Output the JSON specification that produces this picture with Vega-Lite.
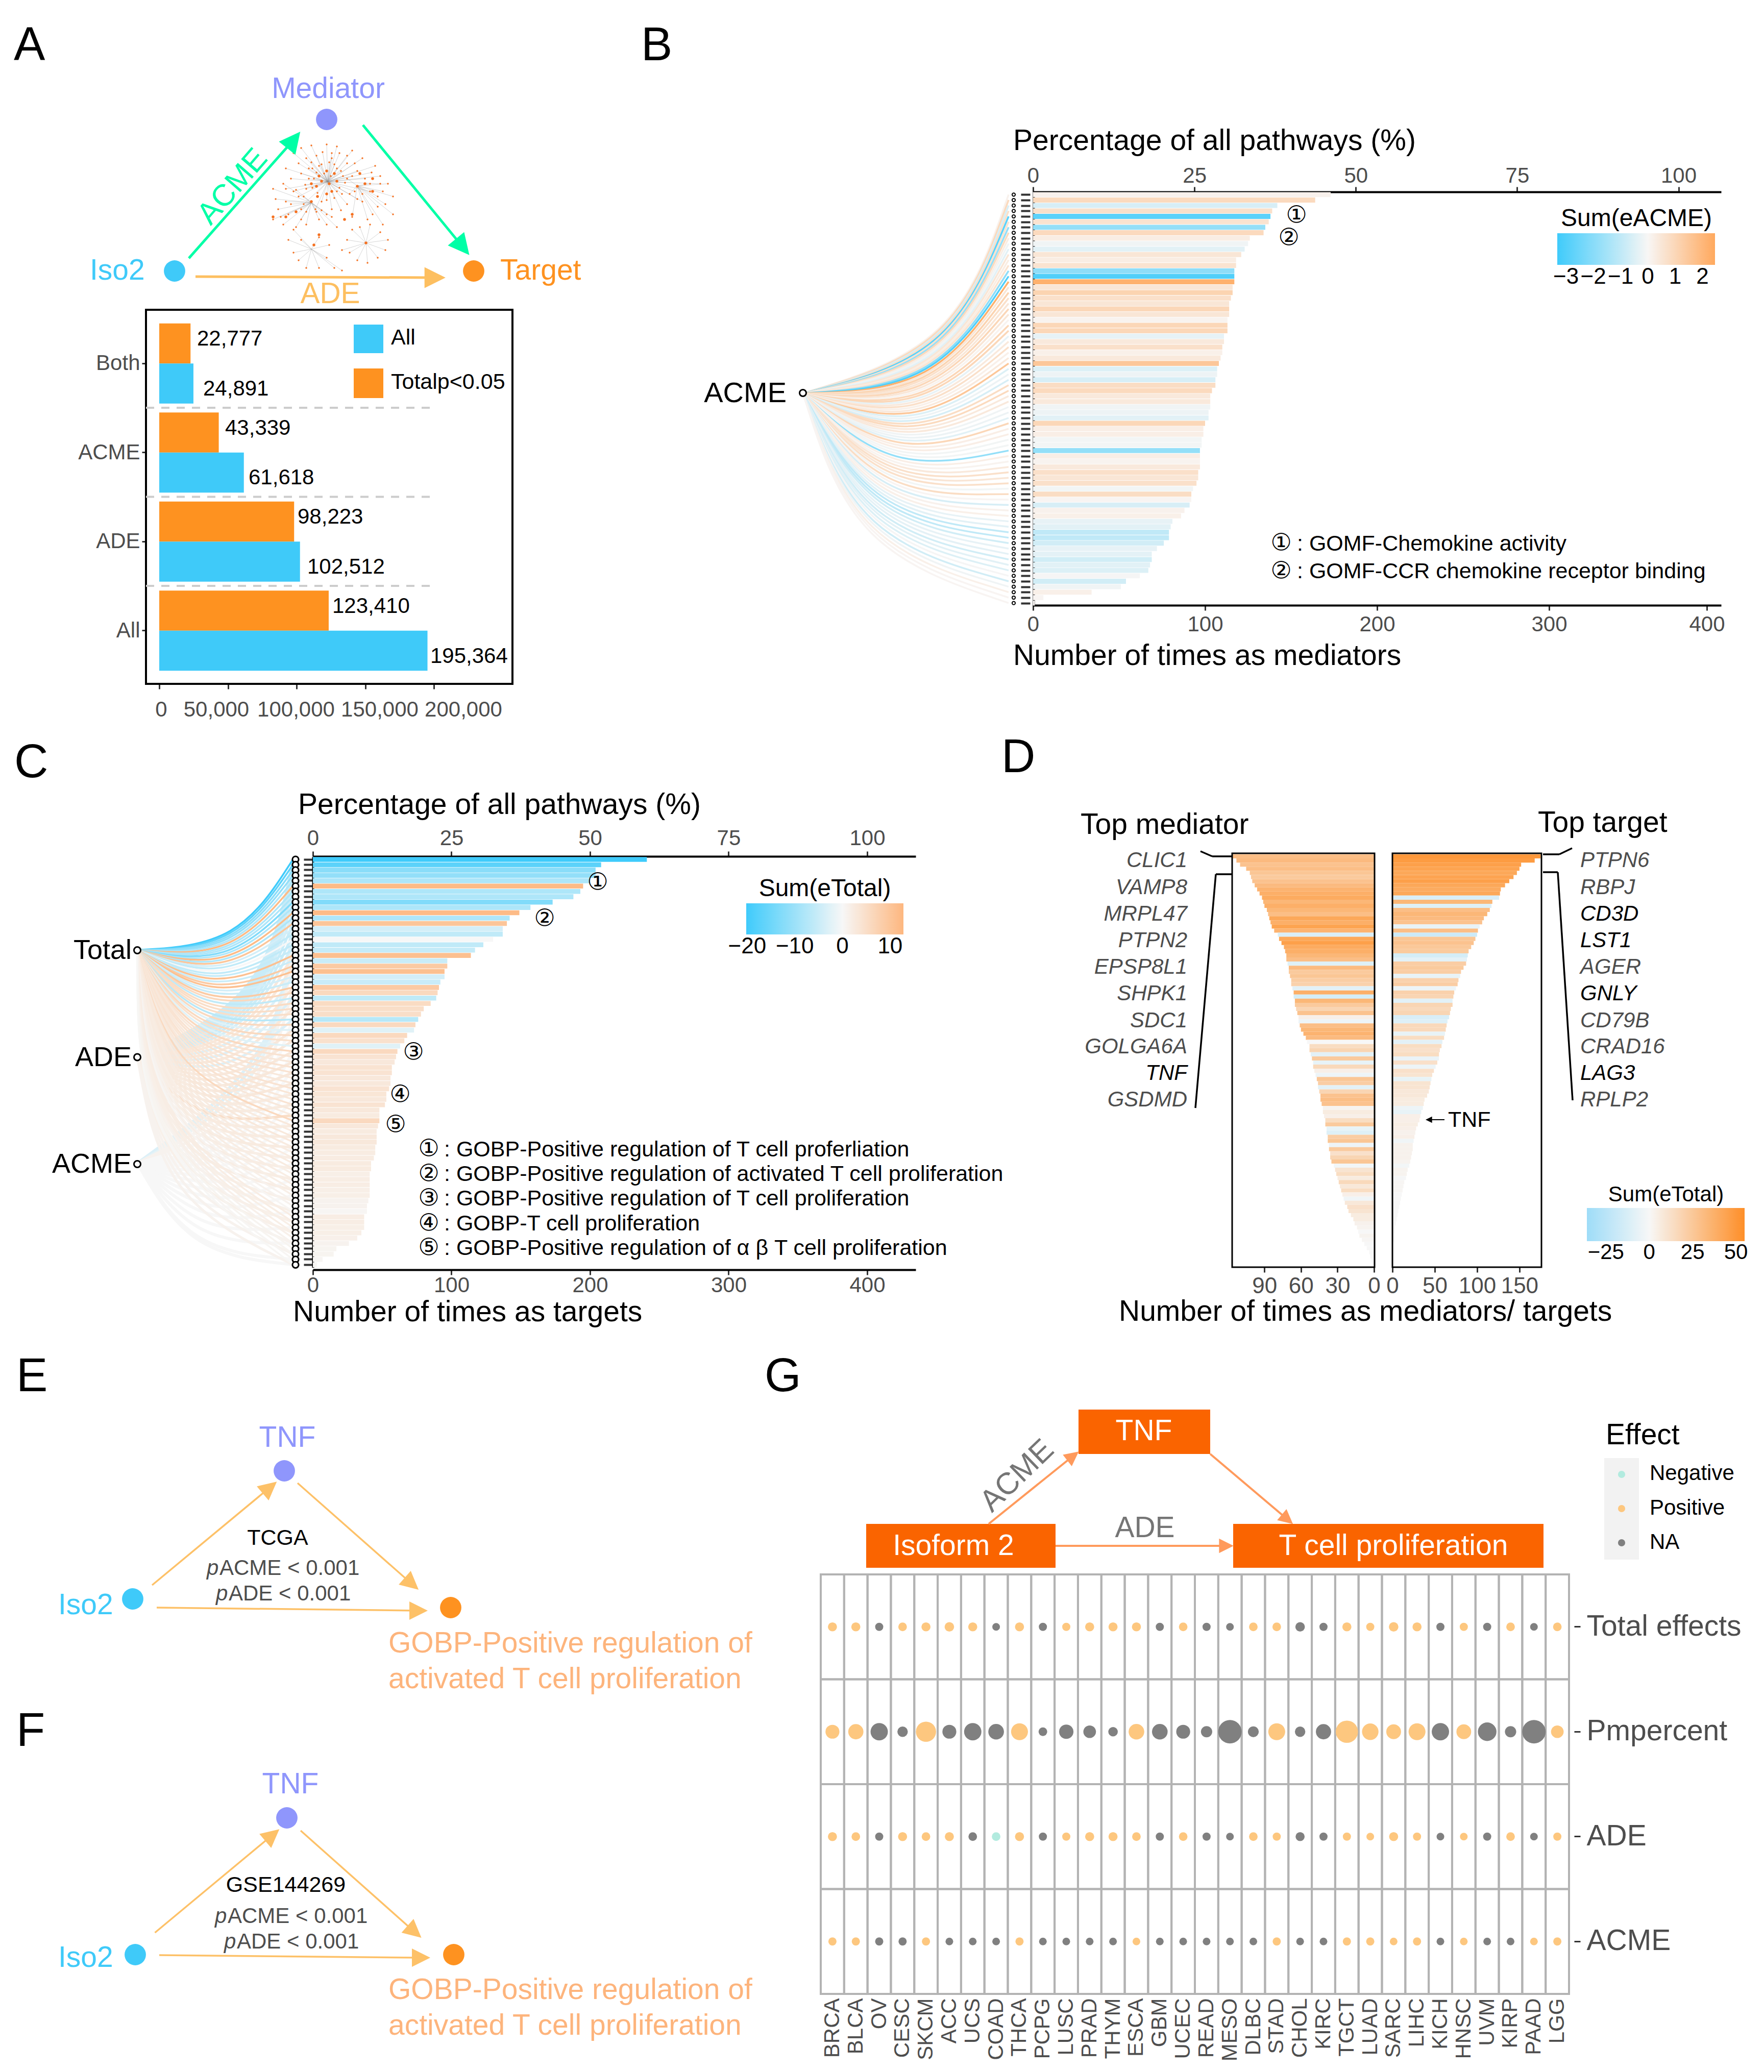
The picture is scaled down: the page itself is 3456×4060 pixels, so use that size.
{"$schema":"https://vega.github.io/schema/vega-lite/v6.json","width":3456,"height":4060,"padding":0,"autosize":{"type":"none"},"background":"white",
"config":{"font":"Liberation Sans","view":{"stroke":null},"text":{"baseline":"alphabetic","align":"left"},"axis":{"labelFontSize":42,"labelColor":"#4d4d4d","tickColor":"#333333","domainColor":"#000000","domainWidth":4,"tickWidth":3,"tickSize":10,"labelPadding":6,"grid":false,"zindex":1,"labelOverlap":false,"labelFlush":false,"labelFont":"Liberation Sans","labelLimit":600},"legend":{"labelFontSize":44,"labelColor":"#000000","titleFontSize":48,"titleFontWeight":"normal","titleColor":"#000000","titleAnchor":"middle","titlePadding":4,"labelOffset":10,"labelFont":"Liberation Sans","titleFont":"Liberation Sans","labelOverlap":false,"titleLimit":600,"labelLimit":200,"symbolType":"square"}},
"resolve":{"scale":{"x":"independent","y":"independent","color":"independent","size":"independent"},"axis":{"x":"independent","y":"independent"},"legend":{"color":"independent"}},
"datasets":{
"b":[{"r":1,"v":173,"c":0.15,"ex":[0,28.1,37.8],"ey":[37.5,28.7,1]},{"r":2,"v":164,"c":0.9,"ex":[0,27.8,37.8],"ey":[37.5,29.2,2]},{"r":3,"v":142,"c":-0.6,"ex":[0,27.6,37.8],"ey":[37.5,29.7,3]},{"r":4,"v":139,"c":0.7,"ex":[0,27.3,37.8],"ey":[37.5,30.2,4]},{"r":5,"v":138,"c":-2.8,"ex":[0,27.1,37.8],"ey":[37.5,30.7,5]},{"r":6,"v":137,"c":0.6,"ex":[0,26.8,37.8],"ey":[37.5,31.2,6]},{"r":7,"v":135,"c":-1.8,"ex":[0,26.6,37.8],"ey":[37.5,31.7,7]},{"r":8,"v":134,"c":0.9,"ex":[0,26.3,37.8],"ey":[37.5,32.2,8]},{"r":9,"v":126,"c":0.3,"ex":[0,26.1,37.8],"ey":[37.5,32.7,9]},{"r":10,"v":125,"c":-0.15,"ex":[0,25.8,37.8],"ey":[37.5,33.2,10]},{"r":11,"v":123,"c":-0.4,"ex":[0,25.6,37.8],"ey":[37.5,33.7,11]},{"r":12,"v":121,"c":0.5,"ex":[0,25.3,37.8],"ey":[37.5,34.2,12]},{"r":13,"v":118,"c":0.3,"ex":[0,25.1,37.8],"ey":[37.5,34.7,13]},{"r":14,"v":118,"c":0.6,"ex":[0,24.8,37.8],"ey":[37.5,35.2,14]},{"r":15,"v":117,"c":-1.9,"ex":[0,24.6,37.8],"ey":[37.5,35.7,15]},{"r":16,"v":117,"c":-3,"ex":[0,24.3,37.8],"ey":[37.5,36.2,16]},{"r":17,"v":117,"c":2.2,"ex":[0,24.1,37.8],"ey":[37.5,36.7,17]},{"r":18,"v":116,"c":0.5,"ex":[0,23.8,37.8],"ey":[37.5,37.2,18]},{"r":19,"v":116,"c":1.1,"ex":[0,23.6,37.8],"ey":[37.5,37.7,19]},{"r":20,"v":115,"c":0.7,"ex":[0,23.3,37.8],"ey":[37.5,38.2,20]},{"r":21,"v":114,"c":0.5,"ex":[0,23.1,37.8],"ey":[37.5,38.7,21]},{"r":22,"v":114,"c":1,"ex":[0,22.8,37.8],"ey":[37.5,39.2,22]},{"r":23,"v":114,"c":0.5,"ex":[0,22.6,37.8],"ey":[37.5,39.7,23]},{"r":24,"v":113,"c":0.1,"ex":[0,22.3,37.8],"ey":[37.5,40.2,24]},{"r":25,"v":113,"c":1,"ex":[0,22.1,37.8],"ey":[37.5,40.7,25]},{"r":26,"v":113,"c":1,"ex":[0,21.8,37.8],"ey":[37.5,41.2,26]},{"r":27,"v":111,"c":-0.3,"ex":[0,21.6,37.8],"ey":[37.5,41.7,27]},{"r":28,"v":111,"c":0.4,"ex":[0,21.3,37.8],"ey":[37.5,42.2,28]},{"r":29,"v":110,"c":0.7,"ex":[0,21.1,37.8],"ey":[37.5,42.7,29]},{"r":30,"v":110,"c":0.2,"ex":[0,20.8,37.8],"ey":[37.5,43.2,30]},{"r":31,"v":109,"c":0.4,"ex":[0,20.6,37.8],"ey":[37.5,43.7,31]},{"r":32,"v":108,"c":1.5,"ex":[0,20.3,37.8],"ey":[37.5,44.2,32]},{"r":33,"v":107,"c":-0.5,"ex":[0,20.1,37.8],"ey":[37.5,44.7,33]},{"r":34,"v":107,"c":-0.2,"ex":[0,19.8,37.8],"ey":[37.5,45.2,34]},{"r":35,"v":106,"c":-0.6,"ex":[0,19.6,37.8],"ey":[37.5,45.7,35]},{"r":36,"v":106,"c":0.8,"ex":[0,19.3,37.8],"ey":[37.5,46.2,36]},{"r":37,"v":104,"c":0.9,"ex":[0,19.1,37.8],"ey":[37.5,46.7,37]},{"r":38,"v":103,"c":0.4,"ex":[0,18.8,37.8],"ey":[37.5,47.2,38]},{"r":39,"v":103,"c":0.4,"ex":[0,18.6,37.8],"ey":[37.5,47.7,39]},{"r":40,"v":103,"c":-0.15,"ex":[0,18.3,37.8],"ey":[37.5,48.2,40]},{"r":41,"v":102,"c":-0.2,"ex":[0,18.1,37.8],"ey":[37.5,48.7,41]},{"r":42,"v":102,"c":-0.4,"ex":[0,17.8,37.8],"ey":[37.5,49.2,42]},{"r":43,"v":100,"c":1,"ex":[0,17.6,37.8],"ey":[37.5,49.7,43]},{"r":44,"v":99,"c":0.25,"ex":[0,17.3,37.8],"ey":[37.5,50.2,44]},{"r":45,"v":99,"c":0.25,"ex":[0,17.1,37.8],"ey":[37.5,50.7,45]},{"r":46,"v":98,"c":-0.1,"ex":[0,16.8,37.8],"ey":[37.5,51.2,46]},{"r":47,"v":98,"c":-0.1,"ex":[0,16.6,37.8],"ey":[37.5,51.7,47]},{"r":48,"v":97,"c":-1.8,"ex":[0,16.3,37.8],"ey":[37.5,52.2,48]},{"r":49,"v":97,"c":0.25,"ex":[0,16.1,37.8],"ey":[37.5,52.7,49]},{"r":50,"v":97,"c":0.1,"ex":[0,15.8,37.8],"ey":[37.5,53.2,50]},{"r":51,"v":97,"c":0.4,"ex":[0,15.6,37.8],"ey":[37.5,53.7,51]},{"r":52,"v":96,"c":0.7,"ex":[0,15.3,37.8],"ey":[37.5,54.2,52]},{"r":53,"v":96,"c":0.5,"ex":[0,15.1,37.8],"ey":[37.5,54.7,53]},{"r":54,"v":95,"c":0.7,"ex":[0,14.8,37.8],"ey":[37.5,55.2,54]},{"r":55,"v":93,"c":-0.1,"ex":[0,14.6,37.8],"ey":[37.5,55.7,55]},{"r":56,"v":92,"c":0.8,"ex":[0,14.3,37.8],"ey":[37.5,56.2,56]},{"r":57,"v":92,"c":0.05,"ex":[0,14.1,37.8],"ey":[37.5,56.7,57]},{"r":58,"v":91,"c":-0.6,"ex":[0,13.8,37.8],"ey":[37.5,57.2,58]},{"r":59,"v":88,"c":0.15,"ex":[0,13.6,37.8],"ey":[37.5,57.7,59]},{"r":60,"v":86,"c":0.2,"ex":[0,13.3,37.8],"ey":[37.5,58.2,60]},{"r":61,"v":81,"c":-0.3,"ex":[0,13.1,37.8],"ey":[37.5,58.7,61]},{"r":62,"v":80,"c":-0.4,"ex":[0,12.8,37.8],"ey":[37.5,59.2,62]},{"r":63,"v":79,"c":-1,"ex":[0,12.6,37.8],"ey":[37.5,59.7,63]},{"r":64,"v":79,"c":-1,"ex":[0,12.3,37.8],"ey":[37.5,60.2,64]},{"r":65,"v":76,"c":-0.7,"ex":[0,12.1,37.8],"ey":[37.5,60.7,65]},{"r":66,"v":72,"c":-0.3,"ex":[0,11.8,37.8],"ey":[37.5,61.2,66]},{"r":67,"v":69,"c":-0.35,"ex":[0,11.6,37.8],"ey":[37.5,61.7,67]},{"r":68,"v":69,"c":-0.7,"ex":[0,11.3,37.8],"ey":[37.5,62.2,68]},{"r":69,"v":68,"c":-0.4,"ex":[0,11.1,37.8],"ey":[37.5,62.7,69]},{"r":70,"v":67,"c":-0.5,"ex":[0,10.8,37.8],"ey":[37.5,63.2,70]},{"r":71,"v":62,"c":-0.05,"ex":[0,10.6,37.8],"ey":[37.5,63.7,71]},{"r":72,"v":54,"c":-0.7,"ex":[0,10.3,37.8],"ey":[37.5,64.2,72]},{"r":73,"v":51,"c":-0.15,"ex":[0,10.1,37.8],"ey":[37.5,64.7,73]},{"r":74,"v":34,"c":0.2,"ex":[0,9.8,37.8],"ey":[37.5,65.2,74]},{"r":75,"v":6,"c":0.05,"ex":[0,9.6,37.8],"ey":[37.5,65.7,75]},{"r":76,"v":1,"c":0.05,"ex":[0,9.3,37.8],"ey":[37.5,66.2,76]}],
"c":[{"r":1,"v":241,"c":-21,"ex":[0,18.9,29.2],"ey":[18,16.8,1]},{"r":2,"v":208,"c":-17,"ex":[0,18.6,29.2],"ey":[18,17.3,2]},{"r":3,"v":204,"c":-12,"ex":[0,18.4,29.2],"ey":[18,17.8,3]},{"r":4,"v":204,"c":-11,"ex":[0,18.1,29.2],"ey":[18,18.3,4]},{"r":5,"v":200,"c":-8,"ex":[0,17.9,29.2],"ey":[18,18.8,5]},{"r":6,"v":195,"c":12,"ex":[0,17.6,29.2],"ey":[18,19.3,6]},{"r":7,"v":193,"c":-8,"ex":[0,17.4,29.2],"ey":[18,19.8,7]},{"r":8,"v":188,"c":-8,"ex":[0,17.1,29.2],"ey":[18,20.3,8]},{"r":9,"v":173,"c":-13,"ex":[0,16.9,29.2],"ey":[18,20.8,9]},{"r":10,"v":157,"c":-8,"ex":[0,16.6,29.2],"ey":[18,21.3,10]},{"r":11,"v":149,"c":12,"ex":[0,16.4,29.2],"ey":[18,21.8,11]},{"r":12,"v":142,"c":-8,"ex":[0,16.1,29.2],"ey":[18,22.3,12]},{"r":13,"v":140,"c":10,"ex":[0,15.9,29.2],"ey":[18,22.8,13]},{"r":14,"v":137,"c":-4,"ex":[0,15.6,29.2],"ey":[18,23.3,14]},{"r":15,"v":137,"c":-6,"ex":[0,15.4,29.2],"ey":[18,23.8,15]},{"r":16,"v":130,"c":0,"ex":[0,15.1,29.2],"ey":[18,24.3,16]},{"r":17,"v":123,"c":-6,"ex":[0,14.9,29.2],"ey":[18,24.8,17]},{"r":18,"v":117,"c":-5.5,"ex":[0,14.6,29.2],"ey":[18,25.3,18]},{"r":19,"v":114,"c":11,"ex":[0,14.4,29.2],"ey":[18,25.8,19]},{"r":20,"v":97,"c":-5,"ex":[0,14.1,29.2],"ey":[18,26.3,20]},{"r":21,"v":97,"c":9,"ex":[0,13.9,29.2],"ey":[18,26.8,21]},{"r":22,"v":95,"c":11,"ex":[0,13.6,29.2],"ey":[18,27.3,22]},{"r":23,"v":95,"c":-4,"ex":[0,13.4,29.2],"ey":[18,27.8,23]},{"r":24,"v":92,"c":-5,"ex":[0,13.1,29.2],"ey":[18,28.3,24]},{"r":25,"v":91,"c":9,"ex":[0,12.9,29.2],"ey":[18,28.8,25]},{"r":26,"v":90,"c":6,"ex":[0,12.6,29.2],"ey":[18,29.3,26]},{"r":27,"v":89,"c":-6,"ex":[0,12.4,29.2],"ey":[18,29.8,27]},{"r":28,"v":85,"c":5.5,"ex":[0,12.1,29.2],"ey":[18,30.3,28]},{"r":29,"v":80,"c":5,"ex":[0,11.9,29.2],"ey":[18,30.8,29]},{"r":30,"v":78,"c":5,"ex":[0,11.6,29.2],"ey":[18,31.3,30]},{"r":31,"v":76,"c":-7,"ex":[0,11.4,29.2],"ey":[18,31.8,31]},{"r":32,"v":74,"c":6,"ex":[0,11.1,29.2],"ey":[18,32.3,32]},{"r":33,"v":73,"c":-2.5,"ex":[0,10.9,29.2],"ey":[18,32.8,33]},{"r":34,"v":68,"c":6,"ex":[0,10.6,29.2],"ey":[18,33.3,34]},{"r":35,"v":66,"c":4.5,"ex":[0,10.4,29.2],"ey":[18,33.8,35]},{"r":36,"v":63,"c":-2.5,"ex":[0,10.1,29.2],"ey":[18,34.3,36]},{"r":37,"v":61,"c":6,"ex":[0,9.9,29.2],"ey":[18,34.8,37]},{"r":38,"v":60,"c":4,"ex":[0,9.6,29.2],"ey":[18,35.3,38]},{"r":39,"v":59,"c":3,"ex":[0,9.4,29.2],"ey":[18,35.8,39]},{"r":40,"v":57,"c":4,"ex":[0,9.1,29.2],"ey":[18,36.3,40]},{"r":41,"v":57,"c":4,"ex":[0,8.9,29.2],"ey":[18,36.8,41]},{"r":42,"v":56,"c":3,"ex":[0,8.6,29.2],"ey":[18,37.3,42]},{"r":43,"v":56,"c":3,"ex":[0,8.4,29.2],"ey":[18,37.8,43]},{"r":44,"v":55,"c":4,"ex":[0,8.1,29.2],"ey":[18,38.3,44]},{"r":45,"v":53,"c":3.5,"ex":[0,7.9,29.2],"ey":[18,38.8,45]},{"r":46,"v":53,"c":3,"ex":[0,7.6,29.2],"ey":[18,39.3,46]},{"r":47,"v":52,"c":4,"ex":[0,7.4,29.2],"ey":[18,39.8,47]},{"r":48,"v":48,"c":3,"ex":[0,7.1,29.2],"ey":[18,40.3,48]},{"r":49,"v":48,"c":2.5,"ex":[0,6.9,29.2],"ey":[18,40.8,49]},{"r":50,"v":48,"c":6,"ex":[0,6.6,29.2],"ey":[18,41.3,50]},{"r":51,"v":47,"c":3,"ex":[0,6.4,29.2],"ey":[18,41.8,51]},{"r":52,"v":46,"c":2.5,"ex":[0,6.1,29.2],"ey":[18,42.3,52]},{"r":53,"v":46,"c":3,"ex":[0,5.9,29.2],"ey":[18,42.8,53]},{"r":54,"v":46,"c":3,"ex":[0,5.6,29.2],"ey":[18,43.3,54]},{"r":55,"v":45,"c":2.5,"ex":[0,5.4,29.2],"ey":[18,43.8,55]},{"r":56,"v":45,"c":2.2,"ex":[0,5.1,29.2],"ey":[18,44.3,56]},{"r":57,"v":44,"c":2.2,"ex":[0,4.9,29.2],"ey":[18,44.8,57]},{"r":58,"v":42,"c":2.5,"ex":[0,4.6,29.2],"ey":[18,45.3,58]},{"r":59,"v":42,"c":2.5,"ex":[0,4.4,29.2],"ey":[18,45.8,59]},{"r":60,"v":41,"c":1.7,"ex":[0,4.1,29.2],"ey":[18,46.3,60]},{"r":61,"v":41,"c":2,"ex":[0,3.9,29.2],"ey":[18,46.8,61]},{"r":62,"v":41,"c":2,"ex":[0,3.6,29.2],"ey":[18,47.3,62]},{"r":63,"v":41,"c":1.7,"ex":[0,3.4,29.2],"ey":[18,47.8,63]},{"r":64,"v":41,"c":1.7,"ex":[0,3.1,29.2],"ey":[18,48.3,64]},{"r":65,"v":40,"c":1,"ex":[0,2.9,29.2],"ey":[18,48.8,65]},{"r":66,"v":39,"c":1,"ex":[0,2.6,29.2],"ey":[18,49.3,66]},{"r":67,"v":39,"c":0.4,"ex":[0,2.4,29.2],"ey":[18,49.8,67]},{"r":68,"v":37,"c":2,"ex":[0,2.1,29.2],"ey":[18,50.3,68]},{"r":69,"v":37,"c":2,"ex":[0,1.9,29.2],"ey":[18,50.8,69]},{"r":70,"v":37,"c":1.7,"ex":[0,1.6,29.2],"ey":[18,51.3,70]},{"r":71,"v":35,"c":1.7,"ex":[0,1.4,29.2],"ey":[18,51.8,71]},{"r":72,"v":32,"c":1.4,"ex":[0,1.1,29.2],"ey":[18,52.3,72]},{"r":73,"v":26,"c":1,"ex":[0,0.9,29.2],"ey":[18,52.8,73]},{"r":74,"v":17,"c":0.7,"ex":[0,0.6,29.2],"ey":[18,53.3,74]},{"r":75,"v":15,"c":0.7,"ex":[0,0.4,29.2],"ey":[18,53.8,75]},{"r":76,"v":7,"c":0.4,"ex":[0,0.1,29.2],"ey":[18,54.3,76]},{"r":77,"v":3,"c":0.3,"ex":[0,0.1,29.2],"ey":[18,54.8,77]}],
"ca":[{"r":1,"c":-5,"ex":[0,23.9,29.2],"ey":[38,26.8,1]},{"r":3,"c":-5,"ex":[0,23.4,29.2],"ey":[38,27.8,3]},{"r":5,"c":-5,"ex":[0,22.9,29.2],"ey":[38,28.8,5]},{"r":7,"c":-5,"ex":[0,22.4,29.2],"ey":[38,29.8,7]},{"r":9,"c":-5,"ex":[0,21.9,29.2],"ey":[38,30.8,9]},{"r":11,"c":-4,"ex":[0,21.4,29.2],"ey":[38,31.8,11]},{"r":13,"c":-5,"ex":[0,20.9,29.2],"ey":[38,32.8,13]},{"r":15,"c":-5,"ex":[0,20.4,29.2],"ey":[38,33.8,15]},{"r":17,"c":-4,"ex":[0,19.9,29.2],"ey":[38,34.8,17]},{"r":19,"c":3,"ex":[0,19.4,29.2],"ey":[38,35.8,19]},{"r":21,"c":3,"ex":[0,18.9,29.2],"ey":[38,36.8,21]},{"r":23,"c":-3,"ex":[0,18.4,29.2],"ey":[38,37.8,23]},{"r":25,"c":3,"ex":[0,17.9,29.2],"ey":[38,38.8,25]},{"r":27,"c":-3,"ex":[0,17.4,29.2],"ey":[38,39.8,27]},{"r":29,"c":3,"ex":[0,16.9,29.2],"ey":[38,40.8,29]},{"r":31,"c":-3,"ex":[0,16.4,29.2],"ey":[38,41.8,31]},{"r":33,"c":3,"ex":[0,15.9,29.2],"ey":[38,42.8,33]},{"r":35,"c":3,"ex":[0,15.4,29.2],"ey":[38,43.8,35]},{"r":37,"c":3,"ex":[0,14.9,29.2],"ey":[38,44.8,37]},{"r":39,"c":3,"ex":[0,14.4,29.2],"ey":[38,45.8,39]},{"r":41,"c":3,"ex":[0,13.9,29.2],"ey":[38,46.8,41]},{"r":43,"c":3,"ex":[0,13.4,29.2],"ey":[38,47.8,43]},{"r":45,"c":2.5,"ex":[0,12.9,29.2],"ey":[38,48.8,45]},{"r":47,"c":2.5,"ex":[0,12.4,29.2],"ey":[38,49.8,47]},{"r":49,"c":5,"ex":[0,11.9,29.2],"ey":[38,50.8,49]},{"r":51,"c":2.5,"ex":[0,11.4,29.2],"ey":[38,51.8,51]},{"r":53,"c":2.5,"ex":[0,10.9,29.2],"ey":[38,52.8,53]},{"r":55,"c":2.5,"ex":[0,10.4,29.2],"ey":[38,53.8,55]},{"r":57,"c":2,"ex":[0,9.9,29.2],"ey":[38,54.8,57]},{"r":59,"c":2,"ex":[0,9.4,29.2],"ey":[38,55.8,59]},{"r":61,"c":2,"ex":[0,8.9,29.2],"ey":[38,56.8,61]},{"r":63,"c":2,"ex":[0,8.4,29.2],"ey":[38,57.8,63]},{"r":65,"c":1.5,"ex":[0,7.9,29.2],"ey":[38,58.8,65]},{"r":67,"c":1.5,"ex":[0,7.4,29.2],"ey":[38,59.8,67]},{"r":69,"c":1.5,"ex":[0,6.9,29.2],"ey":[38,60.8,69]},{"r":71,"c":1.5,"ex":[0,6.4,29.2],"ey":[38,61.8,71]},{"r":73,"c":1,"ex":[0,5.9,29.2],"ey":[38,62.8,73]},{"r":75,"c":1,"ex":[0,5.4,29.2],"ey":[38,63.8,75]},{"r":77,"c":1,"ex":[0,4.9,29.2],"ey":[38,64.8,77]}],
"cm":[{"r":1,"c":-3,"ex":[0,28.9,29.2],"ey":[58,36.8,1]},{"r":7,"c":-3,"ex":[0,27.4,29.2],"ey":[58,39.8,7]},{"r":13,"c":-2,"ex":[0,25.9,29.2],"ey":[58,42.8,13]},{"r":19,"c":1,"ex":[0,24.4,29.2],"ey":[58,45.8,19]},{"r":25,"c":1,"ex":[0,22.9,29.2],"ey":[58,48.8,25]},{"r":31,"c":0,"ex":[0,21.4,29.2],"ey":[58,51.8,31]},{"r":37,"c":0,"ex":[0,19.9,29.2],"ey":[58,54.8,37]},{"r":40,"c":0,"ex":[0,19.1,29.2],"ey":[58,56.3,40]},{"r":43,"c":0,"ex":[0,18.4,29.2],"ey":[58,57.8,43]},{"r":46,"c":0,"ex":[0,17.6,29.2],"ey":[58,59.3,46]},{"r":49,"c":0,"ex":[0,16.9,29.2],"ey":[58,60.8,49]},{"r":52,"c":0,"ex":[0,16.1,29.2],"ey":[58,62.3,52]},{"r":55,"c":0,"ex":[0,15.4,29.2],"ey":[58,63.8,55]},{"r":58,"c":0,"ex":[0,14.6,29.2],"ey":[58,65.3,58]},{"r":61,"c":0,"ex":[0,13.9,29.2],"ey":[58,66.8,61]},{"r":64,"c":0,"ex":[0,13.1,29.2],"ey":[58,68.3,64]},{"r":67,"c":0,"ex":[0,12.4,29.2],"ey":[58,69.8,67]},{"r":70,"c":0,"ex":[0,11.6,29.2],"ey":[58,71.3,70]},{"r":73,"c":0,"ex":[0,10.9,29.2],"ey":[58,72.8,73]},{"r":76,"c":0,"ex":[0,10.1,29.2],"ey":[58,74.3,76]},{"r":77,"c":0,"ex":[0,9.9,29.2],"ey":[58,74.8,77]}],
"d":[{"r":1,"m":116,"a":30,"t":175,"b":50},{"r":2,"m":113,"a":32,"t":168,"b":48},{"r":3,"m":110,"a":28,"t":152,"b":46},{"r":4,"m":105,"a":30,"t":150,"b":44},{"r":5,"m":102,"a":26,"t":147,"b":42},{"r":6,"m":101,"a":24,"t":143,"b":44},{"r":7,"m":100,"a":28,"t":138,"b":46},{"r":8,"m":98,"a":32,"t":133,"b":42},{"r":9,"m":96,"a":36,"t":128,"b":40},{"r":10,"m":94,"a":38,"t":127,"b":42},{"r":11,"m":92,"a":40,"t":126,"b":-12},{"r":12,"m":91,"a":34,"t":118,"b":34},{"r":13,"m":90,"a":38,"t":117,"b":-10},{"r":14,"m":88,"a":34,"t":115,"b":30},{"r":15,"m":87,"a":30,"t":112,"b":34},{"r":16,"m":86,"a":42,"t":108,"b":32},{"r":17,"m":85,"a":38,"t":106,"b":28},{"r":18,"m":84,"a":44,"t":103,"b":-6},{"r":19,"m":82,"a":36,"t":101,"b":30},{"r":20,"m":79,"a":-12,"t":100,"b":-18},{"r":21,"m":78,"a":42,"t":98,"b":26},{"r":22,"m":76,"a":46,"t":96,"b":28},{"r":23,"m":74,"a":40,"t":93,"b":25},{"r":24,"m":73,"a":38,"t":90,"b":24},{"r":25,"m":72,"a":34,"t":89,"b":-14},{"r":26,"m":72,"a":30,"t":88,"b":-8},{"r":27,"m":71,"a":-10,"t":87,"b":22},{"r":28,"m":70,"a":32,"t":84,"b":24},{"r":29,"m":70,"a":24,"t":81,"b":22},{"r":30,"m":69,"a":26,"t":80,"b":-6},{"r":31,"m":68,"a":22,"t":78,"b":20},{"r":32,"m":68,"a":20,"t":77,"b":22},{"r":33,"m":67,"a":-8,"t":75,"b":-4},{"r":34,"m":66,"a":38,"t":73,"b":20},{"r":35,"m":66,"a":-14,"t":72,"b":18},{"r":36,"m":65,"a":34,"t":71,"b":-8},{"r":37,"m":65,"a":24,"t":71,"b":18},{"r":38,"m":64,"a":18,"t":69,"b":16},{"r":39,"m":63,"a":28,"t":68,"b":18},{"r":40,"m":62,"a":4,"t":67,"b":-12},{"r":41,"m":62,"a":-4,"t":65,"b":-10},{"r":42,"m":61,"a":30,"t":64,"b":16},{"r":43,"m":60,"a":34,"t":63,"b":16},{"r":44,"m":58,"a":36,"t":62,"b":-6},{"r":45,"m":56,"a":32,"t":61,"b":14},{"r":46,"m":55,"a":0,"t":59,"b":-8},{"r":47,"m":53,"a":14,"t":58,"b":14},{"r":48,"m":53,"a":18,"t":56,"b":12},{"r":49,"m":52,"a":-8,"t":55,"b":14},{"r":50,"m":51,"a":24,"t":55,"b":-5},{"r":51,"m":50,"a":-6,"t":53,"b":12},{"r":52,"m":50,"a":16,"t":51,"b":-4},{"r":53,"m":49,"a":4,"t":49,"b":12},{"r":54,"m":48,"a":-4,"t":47,"b":10},{"r":55,"m":47,"a":26,"t":46,"b":-6},{"r":56,"m":46,"a":22,"t":45,"b":10},{"r":57,"m":46,"a":-8,"t":44,"b":10},{"r":58,"m":45,"a":18,"t":43,"b":8},{"r":59,"m":44,"a":28,"t":41,"b":8},{"r":60,"m":44,"a":30,"t":38,"b":6},{"r":61,"m":43,"a":28,"t":37,"b":6},{"r":62,"m":42,"a":2,"t":36,"b":-4},{"r":63,"m":42,"a":6,"t":34,"b":-6},{"r":64,"m":41,"a":4,"t":33,"b":4},{"r":65,"m":40,"a":14,"t":32,"b":4},{"r":66,"m":40,"a":24,"t":30,"b":5},{"r":67,"m":39,"a":-6,"t":28,"b":4},{"r":68,"m":39,"a":-10,"t":27,"b":3},{"r":69,"m":38,"a":22,"t":26,"b":4},{"r":70,"m":38,"a":26,"t":25,"b":-3},{"r":71,"m":37,"a":-4,"t":24,"b":3},{"r":72,"m":37,"a":24,"t":24,"b":3},{"r":73,"m":36,"a":12,"t":23,"b":3},{"r":74,"m":36,"a":18,"t":22,"b":3},{"r":75,"m":35,"a":26,"t":21,"b":2},{"r":76,"m":33,"a":-2,"t":20,"b":-2},{"r":77,"m":32,"a":10,"t":18,"b":2},{"r":78,"m":31,"a":14,"t":17,"b":2},{"r":79,"m":30,"a":6,"t":16,"b":-1},{"r":80,"m":29,"a":16,"t":14,"b":1},{"r":81,"m":28,"a":8,"t":13,"b":1},{"r":82,"m":27,"a":14,"t":12,"b":1},{"r":83,"m":26,"a":4,"t":11,"b":0},{"r":84,"m":25,"a":-3,"t":10,"b":0},{"r":85,"m":24,"a":8,"t":9,"b":0},{"r":86,"m":22,"a":12,"t":8,"b":0},{"r":87,"m":21,"a":10,"t":7,"b":0},{"r":88,"m":19,"a":6,"t":6,"b":0},{"r":89,"m":17,"a":6,"t":5,"b":0},{"r":90,"m":16,"a":3,"t":4,"b":0},{"r":91,"m":14,"a":2,"t":3,"b":0},{"r":92,"m":13,"a":0,"t":3,"b":0},{"r":93,"m":12,"a":2,"t":2,"b":0},{"r":94,"m":10,"a":1,"t":2,"b":0},{"r":95,"m":8,"a":0,"t":1,"b":0},{"r":96,"m":6,"a":0,"t":1,"b":0},{"r":97,"m":4,"a":0,"t":1,"b":0},{"r":98,"m":3,"a":0,"t":1,"b":0},{"r":99,"m":2,"a":0,"t":0,"b":0},{"r":100,"m":1,"a":0,"t":0,"b":0}],
"g":[{"g":"BRCA","m":"Total effects","e":"P","d":18},{"g":"BLCA","m":"Total effects","e":"P","d":18},{"g":"OV","m":"Total effects","e":"N","d":16},{"g":"CESC","m":"Total effects","e":"P","d":17},{"g":"SKCM","m":"Total effects","e":"P","d":18},{"g":"ACC","m":"Total effects","e":"P","d":19},{"g":"UCS","m":"Total effects","e":"P","d":18},{"g":"COAD","m":"Total effects","e":"N","d":15},{"g":"THCA","m":"Total effects","e":"P","d":18},{"g":"PCPG","m":"Total effects","e":"N","d":16},{"g":"LUSC","m":"Total effects","e":"P","d":16},{"g":"PRAD","m":"Total effects","e":"P","d":18},{"g":"THYM","m":"Total effects","e":"P","d":18},{"g":"ESCA","m":"Total effects","e":"P","d":18},{"g":"GBM","m":"Total effects","e":"N","d":16},{"g":"UCEC","m":"Total effects","e":"P","d":17},{"g":"READ","m":"Total effects","e":"N","d":16},{"g":"MESO","m":"Total effects","e":"N","d":15},{"g":"DLBC","m":"Total effects","e":"P","d":17},{"g":"STAD","m":"Total effects","e":"P","d":17},{"g":"CHOL","m":"Total effects","e":"N","d":19},{"g":"KIRC","m":"Total effects","e":"N","d":16},{"g":"TGCT","m":"Total effects","e":"P","d":18},{"g":"LUAD","m":"Total effects","e":"P","d":16},{"g":"SARC","m":"Total effects","e":"P","d":19},{"g":"LIHC","m":"Total effects","e":"P","d":18},{"g":"KICH","m":"Total effects","e":"N","d":16},{"g":"HNSC","m":"Total effects","e":"P","d":16},{"g":"UVM","m":"Total effects","e":"N","d":16},{"g":"KIRP","m":"Total effects","e":"P","d":17},{"g":"PAAD","m":"Total effects","e":"N","d":15},{"g":"LGG","m":"Total effects","e":"P","d":17},
{"g":"BRCA","m":"Pmpercent","e":"P","d":29},{"g":"BLCA","m":"Pmpercent","e":"P","d":32},{"g":"OV","m":"Pmpercent","e":"N","d":37},{"g":"CESC","m":"Pmpercent","e":"N","d":21},{"g":"SKCM","m":"Pmpercent","e":"P","d":44},{"g":"ACC","m":"Pmpercent","e":"N","d":29},{"g":"UCS","m":"Pmpercent","e":"N","d":37},{"g":"COAD","m":"Pmpercent","e":"N","d":33},{"g":"THCA","m":"Pmpercent","e":"P","d":36},{"g":"PCPG","m":"Pmpercent","e":"N","d":17},{"g":"LUSC","m":"Pmpercent","e":"N","d":30},{"g":"PRAD","m":"Pmpercent","e":"N","d":26},{"g":"THYM","m":"Pmpercent","e":"N","d":19},{"g":"ESCA","m":"Pmpercent","e":"P","d":33},{"g":"GBM","m":"Pmpercent","e":"N","d":33},{"g":"UCEC","m":"Pmpercent","e":"N","d":29},{"g":"READ","m":"Pmpercent","e":"N","d":23},{"g":"MESO","m":"Pmpercent","e":"N","d":52},{"g":"DLBC","m":"Pmpercent","e":"N","d":22},{"g":"STAD","m":"Pmpercent","e":"P","d":36},{"g":"CHOL","m":"Pmpercent","e":"N","d":21},{"g":"KIRC","m":"Pmpercent","e":"N","d":32},{"g":"TGCT","m":"Pmpercent","e":"P","d":49},{"g":"LUAD","m":"Pmpercent","e":"P","d":35},{"g":"SARC","m":"Pmpercent","e":"P","d":31},{"g":"LIHC","m":"Pmpercent","e":"P","d":36},{"g":"KICH","m":"Pmpercent","e":"N","d":37},{"g":"HNSC","m":"Pmpercent","e":"P","d":31},{"g":"UVM","m":"Pmpercent","e":"N","d":40},{"g":"KIRP","m":"Pmpercent","e":"N","d":23},{"g":"PAAD","m":"Pmpercent","e":"N","d":52},{"g":"LGG","m":"Pmpercent","e":"P","d":26},
{"g":"BRCA","m":"ADE","e":"P","d":18},{"g":"BLCA","m":"ADE","e":"P","d":17},{"g":"OV","m":"ADE","e":"N","d":16},{"g":"CESC","m":"ADE","e":"P","d":18},{"g":"SKCM","m":"ADE","e":"P","d":17},{"g":"ACC","m":"ADE","e":"P","d":18},{"g":"UCS","m":"ADE","e":"N","d":17},{"g":"COAD","m":"ADE","e":"G","d":17},{"g":"THCA","m":"ADE","e":"P","d":18},{"g":"PCPG","m":"ADE","e":"N","d":16},{"g":"LUSC","m":"ADE","e":"P","d":16},{"g":"PRAD","m":"ADE","e":"P","d":18},{"g":"THYM","m":"ADE","e":"P","d":18},{"g":"ESCA","m":"ADE","e":"P","d":17},{"g":"GBM","m":"ADE","e":"N","d":16},{"g":"UCEC","m":"ADE","e":"P","d":17},{"g":"READ","m":"ADE","e":"N","d":16},{"g":"MESO","m":"ADE","e":"N","d":15},{"g":"DLBC","m":"ADE","e":"P","d":17},{"g":"STAD","m":"ADE","e":"P","d":16},{"g":"CHOL","m":"ADE","e":"N","d":18},{"g":"KIRC","m":"ADE","e":"N","d":16},{"g":"TGCT","m":"ADE","e":"P","d":16},{"g":"LUAD","m":"ADE","e":"P","d":15},{"g":"SARC","m":"ADE","e":"P","d":18},{"g":"LIHC","m":"ADE","e":"P","d":16},{"g":"KICH","m":"ADE","e":"N","d":15},{"g":"HNSC","m":"ADE","e":"P","d":15},{"g":"UVM","m":"ADE","e":"N","d":16},{"g":"KIRP","m":"ADE","e":"P","d":17},{"g":"PAAD","m":"ADE","e":"N","d":15},{"g":"LGG","m":"ADE","e":"P","d":16},
{"g":"BRCA","m":"ACME","e":"P","d":16},{"g":"BLCA","m":"ACME","e":"P","d":16},{"g":"OV","m":"ACME","e":"N","d":16},{"g":"CESC","m":"ACME","e":"N","d":16},{"g":"SKCM","m":"ACME","e":"P","d":16},{"g":"ACC","m":"ACME","e":"N","d":15},{"g":"UCS","m":"ACME","e":"N","d":15},{"g":"COAD","m":"ACME","e":"N","d":15},{"g":"THCA","m":"ACME","e":"P","d":16},{"g":"PCPG","m":"ACME","e":"N","d":15},{"g":"LUSC","m":"ACME","e":"N","d":15},{"g":"PRAD","m":"ACME","e":"N","d":15},{"g":"THYM","m":"ACME","e":"N","d":15},{"g":"ESCA","m":"ACME","e":"P","d":15},{"g":"GBM","m":"ACME","e":"N","d":15},{"g":"UCEC","m":"ACME","e":"N","d":15},{"g":"READ","m":"ACME","e":"N","d":15},{"g":"MESO","m":"ACME","e":"N","d":15},{"g":"DLBC","m":"ACME","e":"N","d":15},{"g":"STAD","m":"ACME","e":"P","d":16},{"g":"CHOL","m":"ACME","e":"N","d":15},{"g":"KIRC","m":"ACME","e":"N","d":15},{"g":"TGCT","m":"ACME","e":"P","d":16},{"g":"LUAD","m":"ACME","e":"P","d":16},{"g":"SARC","m":"ACME","e":"P","d":15},{"g":"LIHC","m":"ACME","e":"P","d":16},{"g":"KICH","m":"ACME","e":"N","d":15},{"g":"HNSC","m":"ACME","e":"P","d":15},{"g":"UVM","m":"ACME","e":"N","d":15},{"g":"KIRP","m":"ACME","e":"N","d":15},{"g":"PAAD","m":"ACME","e":"P","d":15},{"g":"LGG","m":"ACME","e":"P","d":16}]
},
"layer":[
{"data":{"values":[{"k":"Both","s":"Totalp<0.05","n":22777},{"k":"Both","s":"All","n":24891},{"k":"ACME","s":"Totalp<0.05","n":43339},{"k":"ACME","s":"All","n":61618},{"k":"ADE","s":"Totalp<0.05","n":98223},{"k":"ADE","s":"All","n":102512},{"k":"All","s":"Totalp<0.05","n":123410},{"k":"All","s":"All","n":195364}]},"mark":{"type":"bar"},"encoding":{"x":{"field":"n","type":"quantitative","stack":null,"scale":{"domain":[0,200000],"range":[312,850]},"axis":{"title":null,"orient":"bottom","offset":-2720,"values":[0,50000,100000,150000,200000],"labels":false,"domain":false}},"y":{"field":"k","type":"nominal","sort":null,"scale":{"domain":["Both","ACME","ADE","All"],"range":[625,1323],"paddingInner":0.1,"paddingOuter":0.05},"axis":{"title":null,"orient":"left","offset":-286,"domain":false,"tickSize":8,"labelPadding":4}},"yOffset":{"field":"s","sort":null,"scale":{"domain":["Totalp<0.05","All"]}},"color":{"field":"s","scale":{"domain":["Totalp<0.05","All"],"range":["#fe9220","#3fcaf9"]},"legend":null}}},
{"data":{"name":"b"},"transform":[{"flatten":["ex","ey"]}],"mark":{"type":"line","interpolate":"basis","strokeWidth":3.5},"encoding":{"x":{"field":"ex","type":"quantitative","scale":{"domain":[0,37.8],"range":[1573,1976]},"axis":null},"y":{"field":"ey","type":"quantitative","scale":{"domain":[1,76],"range":[381.3,1181.7]},"axis":null},"detail":{"field":"r"},"color":{"field":"c","type":"quantitative","scale":{"domain":[-3.32,0,2.46],"range":["#3fcbfb","#f8f6f5","#ffa95e"],"interpolate":"rgb","clamp":true},"legend":null}}},
{"data":{"name":"b"},"mark":{"type":"bar"},"encoding":{"x":{"field":"v","type":"quantitative","stack":null,"scale":{"domain":[0,300,400,408],"range":[2024,3035,3344,3372]},"axis":{"title":null,"orient":"bottom","offset":-2874,"values":[0,100,200,300,400],"labelPadding":7}},"y":{"field":"r","type":"ordinal","scale":{"range":[376,1187],"paddingInner":0.08,"paddingOuter":0.04},"axis":{"title":null,"orient":"left","offset":-2025,"labels":false,"ticks":false}},"color":{"field":"c","type":"quantitative","scale":{"domain":[-3.32,0,2.46],"range":["#3fcbfb","#f8f6f5","#ffa95e"],"interpolate":"rgb","clamp":true},"legend":{"orient":"none","legendX":3051,"legendY":405,"direction":"horizontal","gradientLength":309,"gradientThickness":62,"title":"Sum(eACME)","values":[-3,-2,-1,0,1,2]}}}},
{"data":{"name":"b"},"mark":{"type":"point","filled":true,"fill":"white","stroke":"black","strokeWidth":2,"size":38,"opacity":1},"encoding":{"x":{"datum":1986,"type":"quantitative","scale":{"domain":[0,3456]},"axis":null},"y":{"field":"r","type":"ordinal","scale":{"range":[376,1187],"paddingInner":0.08,"paddingOuter":0.04},"axis":{"title":null,"orient":"left","offset":-2018,"labels":false,"domain":false,"tickSize":18,"tickWidth":4}}}},
{"data":{"values":[{"p":0},{"p":100}]},"mark":{"type":"rule","opacity":0},"encoding":{"x":{"field":"p","type":"quantitative","scale":{"domain":[0,106.6],"range":[2024,3372]},"axis":{"title":null,"orient":"top","offset":-376,"values":[0,25,50,75,100],"labelPadding":0}}}},
{"data":{"name":"cm"},"transform":[{"flatten":["ex","ey"]}],"mark":{"type":"line","interpolate":"basis","strokeWidth":6},"encoding":{"x":{"field":"ex","type":"quantitative","scale":{"domain":[0,29.2],"range":[269,574]},"axis":null},"y":{"field":"ey","type":"quantitative","scale":{"domain":[1,77],"range":[1684,2478]},"axis":null},"detail":{"field":"r"},"color":{"field":"c","type":"quantitative","scale":{"domain":[-20.2,0,12.8],"range":["#3fcbfb","#f7f7f7","#fdb77f"],"interpolate":"rgb","clamp":true},"legend":null}}},
{"data":{"name":"ca"},"transform":[{"flatten":["ex","ey"]}],"mark":{"type":"line","interpolate":"basis","strokeWidth":5},"encoding":{"x":{"field":"ex","type":"quantitative","scale":{"domain":[0,29.2],"range":[269,574]},"axis":null},"y":{"field":"ey","type":"quantitative","scale":{"domain":[1,77],"range":[1684,2478]},"axis":null},"detail":{"field":"r"},"color":{"field":"c","type":"quantitative","scale":{"domain":[-20.2,0,12.8],"range":["#3fcbfb","#f7f7f7","#fdb77f"],"interpolate":"rgb","clamp":true},"legend":null}}},
{"data":{"name":"c"},"transform":[{"flatten":["ex","ey"]}],"mark":{"type":"line","interpolate":"basis","strokeWidth":3.5},"encoding":{"x":{"field":"ex","type":"quantitative","scale":{"domain":[0,29.2],"range":[269,574]},"axis":null},"y":{"field":"ey","type":"quantitative","scale":{"domain":[1,77],"range":[1684,2478]},"axis":null},"detail":{"field":"r"},"color":{"field":"c","type":"quantitative","scale":{"domain":[-20.2,0,12.8],"range":["#3fcbfb","#f7f7f7","#fdb77f"],"interpolate":"rgb","clamp":true},"legend":null}}},
{"data":{"name":"c"},"mark":{"type":"bar"},"encoding":{"x":{"field":"v","type":"quantitative","stack":null,"scale":{"domain":[0,435],"range":[613,1794]},"axis":{"title":null,"orient":"bottom","offset":-1572,"values":[0,100,200,300,400],"labelPadding":0}},"y":{"field":"r","type":"ordinal","scale":{"range":[1678.8,2483.5],"paddingInner":0.08,"paddingOuter":0.04},"axis":{"title":null,"orient":"left","offset":-613,"labels":false,"tickSize":18,"tickWidth":4}},"color":{"field":"c","type":"quantitative","scale":{"domain":[-20.2,0,12.8],"range":["#3fcbfb","#f7f7f7","#fdb77f"],"interpolate":"rgb","clamp":true},"legend":{"orient":"none","legendX":1462,"legendY":1718,"direction":"horizontal","gradientLength":308,"gradientThickness":61,"title":"Sum(eTotal)","values":[-20,-10,0,10]}}}},
{"data":{"name":"c"},"mark":{"type":"point","fill":"white","filled":true,"stroke":"black","strokeWidth":3,"size":150,"opacity":1},"encoding":{"x":{"datum":579,"type":"quantitative","scale":{"domain":[0,3456]},"axis":null},"y":{"field":"r","type":"ordinal","scale":{"range":[1678.8,2483.5],"paddingInner":0.08,"paddingOuter":0.04},"axis":null}}},
{"data":{"values":[{"p":0},{"p":100}]},"mark":{"type":"rule","opacity":0},"encoding":{"x":{"field":"p","type":"quantitative","scale":{"domain":[0,108.75],"range":[613,1794]},"axis":{"title":null,"orient":"top","offset":-1678,"values":[0,25,50,75,100],"labelPadding":4}}}},
{"data":{"name":"d"},"mark":{"type":"bar"},"encoding":{"x":{"field":"m","type":"quantitative","stack":null,"scale":{"domain":[0,116.5],"range":[2692,2414]},"axis":{"title":null,"orient":"bottom","offset":-1577,"values":[0,30,60,90],"domain":false,"labelPadding":5,"labelFontSize":44}},"y":{"field":"r","type":"ordinal","scale":{"range":[1674,2482],"padding":0},"axis":null},"color":{"field":"a","type":"quantitative","scale":{"domain":[-36,0,55],"range":["#9edcf8","#f7f7f7","#fe8f28"],"interpolate":"rgb","clamp":true},"legend":null}}},
{"data":{"name":"d"},"mark":{"type":"bar"},"encoding":{"x":{"field":"t","type":"quantitative","stack":null,"scale":{"domain":[0,176],"range":[2728,3020]},"axis":{"title":null,"orient":"bottom","offset":-1577,"values":[0,50,100,150],"domain":false,"labelPadding":5,"labelFontSize":44}},"y":{"field":"r","type":"ordinal","scale":{"range":[1674,2482],"padding":0},"axis":null},"color":{"field":"b","type":"quantitative","scale":{"domain":[-36,0,55],"range":["#9edcf8","#f7f7f7","#fe8f28"],"interpolate":"rgb","clamp":true},"legend":{"orient":"none","legendX":3109,"legendY":2321,"direction":"horizontal","gradientLength":309,"gradientThickness":65,"title":"Sum(eTotal)","titleFontSize":42,"labelFontSize":42,"values":[-25,0,25,50]}}}},
{"data":{"name":"g"},"mark":{"type":"rect","fill":"transparent","stroke":"#b3b3b3","strokeWidth":4},"encoding":{"x":{"field":"g","type":"nominal","sort":null,"scale":{"type":"band","range":[1608,3074],"padding":0},"axis":null},"y":{"field":"m","type":"nominal","sort":null,"scale":{"type":"band","range":[3085,3907],"padding":0},"axis":null}}},
{"data":{"name":"g"},"mark":{"type":"point","filled":true,"opacity":1},"encoding":{"x":{"field":"g","type":"nominal","sort":null,"scale":{"type":"band","range":[1608,3074],"padding":0},"axis":{"title":null,"orient":"bottom","offset":-153,"ticks":false,"domain":false,"labelAngle":-90,"labelPadding":8}},"y":{"field":"m","type":"nominal","sort":null,"scale":{"type":"band","range":[3085,3907],"padding":0},"axis":{"title":null,"orient":"right","offset":-372,"domain":false,"tickSize":12,"labelFontSize":57,"labelPadding":12}},"size":{"field":"d","type":"quantitative","scale":{"type":"pow","exponent":1.8,"domain":[0,52],"range":[0,2124]},"legend":null},"color":{"field":"e","type":"nominal","scale":{"domain":["G","P","N"],"range":["#b2ebdf","#fdc77f","#808080"]},"legend":null}}},
{"encoding":{"x":{"field":"x","type":"quantitative","scale":{"domain":[0,3456]},"axis":null},"y":{"field":"y","type":"quantitative","scale":{"domain":[0,4060],"range":[0,4060]},"axis":null}},
"layer":[
{"data":{"values":[{"x":575,"y":300,"a":642,"b":356},{"x":590,"y":290,"a":642,"b":356},{"x":610,"y":285,"a":642,"b":356},{"x":640,"y":283,"a":642,"b":356},{"x":660,"y":287,"a":642,"b":356},{"x":690,"y":295,"a":642,"b":356},{"x":710,"y":310,"a":642,"b":356},{"x":735,"y":325,"a":642,"b":356},{"x":745,"y":345,"a":642,"b":356},{"x":745,"y":360,"a":642,"b":356},{"x":600,"y":310,"a":642,"b":356},{"x":620,"y":305,"a":642,"b":356},{"x":650,"y":310,"a":642,"b":356},{"x":680,"y":320,"a":642,"b":356},{"x":700,"y":335,"a":642,"b":356},{"x":560,"y":330,"a":642,"b":356},{"x":570,"y":350,"a":642,"b":356},{"x":560,"y":370,"a":642,"b":356},{"x":590,"y":340,"a":642,"b":356},{"x":605,"y":330,"a":642,"b":356},{"x":625,"y":325,"a":642,"b":356},{"x":660,"y":330,"a":642,"b":356},{"x":672,"y":345,"a":642,"b":356},{"x":715,"y":350,"a":642,"b":356},{"x":725,"y":375,"a":642,"b":356},{"x":700,"y":390,"a":642,"b":356},{"x":680,"y":400,"a":642,"b":356},{"x":650,"y":410,"a":642,"b":356},{"x":630,"y":395,"a":642,"b":356},{"x":600,"y":370,"a":642,"b":356},{"x":585,"y":385,"a":642,"b":356},{"x":615,"y":350,"a":642,"b":356},{"x":635,"y":340,"a":642,"b":356},{"x":660,"y":375,"a":642,"b":356},{"x":670,"y":380,"a":642,"b":356},{"x":612,"y":330,"a":642,"b":356},{"x":620,"y":338,"a":642,"b":356},{"x":630,"y":322,"a":642,"b":356},{"x":645,"y":318,"a":642,"b":356},{"x":655,"y":322,"a":642,"b":356},{"x":668,"y":335,"a":642,"b":356},{"x":676,"y":358,"a":642,"b":356},{"x":665,"y":368,"a":642,"b":356},{"x":655,"y":388,"a":642,"b":356},{"x":640,"y":392,"a":642,"b":356},{"x":622,"y":378,"a":642,"b":356},{"x":612,"y":368,"a":642,"b":356},{"x":605,"y":350,"a":642,"b":356},{"x":598,"y":362,"a":642,"b":356},{"x":650,"y":300,"a":642,"b":356},{"x":632,"y":298,"a":642,"b":356},{"x":680,"y":305,"a":642,"b":356},{"x":695,"y":320,"a":642,"b":356},{"x":665,"y":300,"a":642,"b":356},{"x":610,"y":318,"a":642,"b":356},{"x":585,"y":320,"a":642,"b":356},{"x":575,"y":375,"a":642,"b":356},{"x":595,"y":400,"a":642,"b":356},{"x":618,"y":410,"a":642,"b":356},{"x":668,"y":412,"a":642,"b":356},{"x":695,"y":375,"a":642,"b":356},{"x":710,"y":395,"a":642,"b":356},{"x":728,"y":338,"a":642,"b":356},{"x":690,"y":345,"a":642,"b":356},{"x":648,"y":345,"a":642,"b":356},{"x":540,"y":390,"a":610,"b":397},{"x":545,"y":410,"a":610,"b":397},{"x":535,"y":430,"a":610,"b":397},{"x":555,"y":440,"a":610,"b":397},{"x":565,"y":420,"a":610,"b":397},{"x":570,"y":400,"a":610,"b":397},{"x":580,"y":445,"a":610,"b":397},{"x":590,"y":430,"a":610,"b":397},{"x":600,"y":440,"a":610,"b":397},{"x":625,"y":430,"a":610,"b":397},{"x":640,"y":440,"a":610,"b":397},{"x":650,"y":425,"a":610,"b":397},{"x":535,"y":370,"a":610,"b":397},{"x":555,"y":360,"a":610,"b":397},{"x":660,"y":445,"a":610,"b":397},{"x":600,"y":415,"a":610,"b":397},{"x":590,"y":410,"a":610,"b":397},{"x":620,"y":415,"a":610,"b":397},{"x":630,"y":412,"a":610,"b":397},{"x":595,"y":385,"a":610,"b":397},{"x":580,"y":372,"a":610,"b":397},{"x":560,"y":395,"a":610,"b":397},{"x":550,"y":425,"a":610,"b":397},{"x":640,"y":420,"a":610,"b":397},{"x":760,"y":360,"a":700,"b":364},{"x":770,"y":385,"a":700,"b":364},{"x":755,"y":400,"a":700,"b":364},{"x":740,"y":405,"a":700,"b":364},{"x":730,"y":420,"a":700,"b":364},{"x":770,"y":420,"a":700,"b":364},{"x":750,"y":440,"a":700,"b":364},{"x":720,"y":430,"a":700,"b":364},{"x":690,"y":425,"a":700,"b":364},{"x":680,"y":350,"a":700,"b":364},{"x":685,"y":380,"a":700,"b":364},{"x":710,"y":380,"a":700,"b":364},{"x":725,"y":360,"a":700,"b":364},{"x":740,"y":385,"a":700,"b":364},{"x":750,"y":375,"a":700,"b":364},{"x":680,"y":470,"a":717,"b":476},{"x":690,"y":450,"a":717,"b":476},{"x":705,"y":445,"a":717,"b":476},{"x":725,"y":440,"a":717,"b":476},{"x":745,"y":455,"a":717,"b":476},{"x":760,"y":470,"a":717,"b":476},{"x":755,"y":490,"a":717,"b":476},{"x":740,"y":505,"a":717,"b":476},{"x":720,"y":515,"a":717,"b":476},{"x":700,"y":510,"a":717,"b":476},{"x":685,"y":495,"a":717,"b":476},{"x":670,"y":490,"a":717,"b":476},{"x":575,"y":450,"a":610,"b":488},{"x":565,"y":470,"a":610,"b":488},{"x":575,"y":495,"a":610,"b":488},{"x":585,"y":510,"a":610,"b":488},{"x":600,"y":525,"a":610,"b":488},{"x":625,"y":525,"a":610,"b":488},{"x":640,"y":505,"a":610,"b":488},{"x":645,"y":480,"a":610,"b":488},{"x":590,"y":470,"a":610,"b":488},{"x":625,"y":465,"a":610,"b":488},{"x":655,"y":525,"a":610,"b":488},{"x":670,"y":530,"a":610,"b":488}]},"layer":[{"mark":{"type":"rule","stroke":"#8a8a8a","strokeWidth":1,"opacity":0.35},"encoding":{"x2":{"field":"a"},"y2":{"field":"b"}}},{"mark":{"type":"point","filled":true,"color":"#f5701f","size":12,"opacity":1}}]},
{"data":{"values":[{"x":625,"y":345},{"x":640,"y":335},{"x":655,"y":340},{"x":630,"y":355},{"x":645,"y":360},{"x":620,"y":365},{"x":650,"y":375},{"x":660,"y":355},{"x":640,"y":380},{"x":622,"y":385},{"x":610,"y":395},{"x":700,"y":365},{"x":715,"y":360},{"x":705,"y":340},{"x":730,"y":350},{"x":730,"y":375},{"x":625,"y":460},{"x":615,"y":480},{"x":717,"y":476},{"x":675,"y":430},{"x":690,"y":420},{"x":535,"y":425},{"x":560,"y":425},{"x":610,"y":360},{"x":580,"y":415}]},"mark":{"type":"point","filled":true,"color":"#f5701f","size":30,"opacity":1}},
{"data":{"values":[{"x":286,"y":607,"x2":1004,"y2":1340}]},"mark":{"type":"rect","fill":"transparent","stroke":"black","strokeWidth":4},"encoding":{"x2":{"field":"x2"},"y2":{"field":"y2"}}},
{"data":{"values":[{"x":2414,"y":1672,"x2":2693,"y2":2483},{"x":2728,"y":1672,"x2":3020,"y2":2483}]},"mark":{"type":"rect","fill":"transparent","stroke":"black","strokeWidth":3},"encoding":{"x2":{"field":"x2"},"y2":{"field":"y2"}}},
{"data":{"values":[{"x":693,"y":636,"x2":751,"y2":692}]},"mark":{"type":"rect","fill":"#3fcaf9"},"encoding":{"x2":{"field":"x2"},"y2":{"field":"y2"}}},
{"data":{"values":[{"x":693,"y":722,"x2":751,"y2":780}]},"mark":{"type":"rect","fill":"#fe9220"},"encoding":{"x2":{"field":"x2"},"y2":{"field":"y2"}}},
{"data":{"values":[{"x":2113,"y":2762,"x2":2371,"y2":2849},{"x":1697,"y":2986,"x2":2068,"y2":3072},{"x":2416,"y":2986,"x2":3024,"y2":3072}]},"mark":{"type":"rect","fill":"#fa6400"},"encoding":{"x2":{"field":"x2"},"y2":{"field":"y2"}}},
{"data":{"values":[{"x":3143,"y":2857,"x2":3211,"y2":3056}]},"mark":{"type":"rect","fill":"#f2f2f2"},"encoding":{"x2":{"field":"x2"},"y2":{"field":"y2"}}},
{"data":{"values":[{"x":286,"y":799,"x2":851,"y2":799},{"x":286,"y":973.5,"x2":851,"y2":973.5},{"x":286,"y":1148,"x2":851,"y2":1148}]},"mark":{"type":"rule","stroke":"#cccccc","strokeWidth":4,"strokeDash":[16,14]},"encoding":{"x2":{"field":"x2"},"y2":{"field":"y2"}}},
{"data":{"values":[{"x":370,"y":506,"x2":578,"y2":271},{"x":711,"y":245,"x2":905,"y2":482}]},"mark":{"type":"rule","stroke":"#00ffa6","strokeWidth":5},"encoding":{"x2":{"field":"x2"},"y2":{"field":"y2"}}},
{"data":{"values":[{"x":574,"y":276,"a":38.6},{"x":905,"y":482,"a":140.7}]},"mark":{"type":"point","filled":true,"shape":"M0,-1L-0.9,0.8L0.9,0.8Z","size":2100,"color":"#00ffa6","opacity":1},"encoding":{"angle":{"field":"a","type":"quantitative","scale":null}}},
{"data":{"values":[{"x":383,"y":542,"x2":850,"y2":544}]},"mark":{"type":"rule","stroke":"#fdbf60","strokeWidth":5},"encoding":{"x2":{"field":"x2"},"y2":{"field":"y2"}}},
{"data":{"values":[{"x":850,"y":544,"a":90}]},"mark":{"type":"point","filled":true,"shape":"M0,-1L-0.9,0.8L0.9,0.8Z","size":2100,"color":"#fdbf60","opacity":1},"encoding":{"angle":{"field":"a","type":"quantitative","scale":null}}},
{"data":{"values":[{"x":298,"y":3106,"x2":527,"y2":2916},{"x":583,"y":2906,"x2":805,"y2":3102},{"x":307,"y":3150,"x2":818,"y2":3156},{"x":303.5,"y":3787,"x2":532,"y2":3597},{"x":589,"y":3587,"x2":810.5,"y2":3784},{"x":312,"y":3831,"x2":823,"y2":3836}]},"mark":{"type":"rule","stroke":"#fdc168","strokeWidth":3.5},"encoding":{"x2":{"field":"x2"},"y2":{"field":"y2"}}},
{"data":{"values":[{"x":527,"y":2916,"a":50},{"x":805,"y":3102,"a":131},{"x":818,"y":3156,"a":90},{"x":532,"y":3597,"a":50},{"x":810.5,"y":3784,"a":131},{"x":823,"y":3836,"a":90}]},"mark":{"type":"point","filled":true,"shape":"M0,-1L-0.9,0.8L0.9,0.8Z","size":1600,"color":"#fdc168","opacity":1},"encoding":{"angle":{"field":"a","type":"quantitative","scale":null}}},
{"data":{"values":[{"x":1937,"y":2986,"x2":2101,"y2":2854},{"x":2371,"y":2849,"x2":2521,"y2":2976},{"x":2068,"y":3029,"x2":2401,"y2":3029}]},"mark":{"type":"rule","stroke":"#ff9a5c","strokeWidth":4},"encoding":{"x2":{"field":"x2"},"y2":{"field":"y2"}}},
{"data":{"values":[{"x":2101,"y":2854,"a":52},{"x":2521,"y":2976,"a":130},{"x":2401,"y":3029,"a":90}]},"mark":{"type":"point","filled":true,"shape":"M0,-1L-0.9,0.8L0.9,0.8Z","size":1000,"color":"#ff9a5c","opacity":1},"encoding":{"angle":{"field":"a","type":"quantitative","scale":null}}},
{"data":{"values":[{"x":2352,"y":1668,"x2":2375,"y2":1678},{"x":2375,"y":1678,"x2":2414,"y2":1678},{"x":2414,"y":1713,"x2":2382,"y2":1713},{"x":2382,"y":1713,"x2":2342,"y2":2171},{"x":3023,"y":1674,"x2":3055,"y2":1674},{"x":3055,"y":1674,"x2":3080,"y2":1662},{"x":3023,"y":1709,"x2":3052,"y2":1709},{"x":3052,"y":1709,"x2":3081,"y2":2156}]},"mark":{"type":"rule","stroke":"black","strokeWidth":3.5},"encoding":{"x2":{"field":"x2"},"y2":{"field":"y2"}}},
{"data":{"values":[{"x":2830,"y":2194,"x2":2795,"y2":2194}]},"mark":{"type":"rule","stroke":"black","strokeWidth":2},"encoding":{"x2":{"field":"x2"},"y2":{"field":"y2"}}},
{"data":{"values":[{"x":2800,"y":2194,"a":270}]},"mark":{"type":"point","filled":true,"shape":"M0,-1L-0.9,0.8L0.9,0.8Z","size":200,"color":"black","opacity":1},"encoding":{"angle":{"field":"a","type":"quantitative","scale":null}}},
{"data":{"values":[{"x":342,"y":531},{"x":260,"y":3133},{"x":265,"y":3830}]},"mark":{"type":"point","filled":true,"color":"#3fcaf9","size":1750,"opacity":1}},
{"data":{"values":[{"x":640,"y":234},{"x":557,"y":2882},{"x":562,"y":3562}]},"mark":{"type":"point","filled":true,"color":"#8f96fc","size":1750,"opacity":1}},
{"data":{"values":[{"x":928,"y":531},{"x":883,"y":3150},{"x":889,"y":3830}]},"mark":{"type":"point","filled":true,"color":"#fe9220","size":1750,"opacity":1}},
{"data":{"values":[{"x":1573,"y":770},{"x":269,"y":1862},{"x":269,"y":2071.5},{"x":269,"y":2281}]},"mark":{"type":"point","filled":true,"fill":"white","stroke":"black","strokeWidth":3,"size":170,"opacity":1}},
{"data":{"values":[{"x":3177,"y":2889}]},"mark":{"type":"point","filled":true,"color":"#b2ebdf","size":200,"opacity":1}},
{"data":{"values":[{"x":3177,"y":2956}]},"mark":{"type":"point","filled":true,"color":"#fdc77f","size":200,"opacity":1}},
{"data":{"values":[{"x":3177,"y":3023}]},"mark":{"type":"point","filled":true,"color":"#808080","size":200,"opacity":1}},
{"encoding":{"text":{"field":"t"}},"layer":[
{"data":{"values":[{"x":27,"y":118,"t":"A"},{"x":1256,"y":118,"t":"B"},{"x":28,"y":1523,"t":"C"},{"x":1962,"y":1513,"t":"D"},{"x":32,"y":2726,"t":"E"},{"x":32,"y":3421,"t":"F"},{"x":1498,"y":2726,"t":"G"}]},"mark":{"type":"text","fontSize":92,"color":"black"}},
{"data":{"values":[{"x":643,"y":192,"t":"Mediator"},{"x":563,"y":2835,"t":"TNF"},{"x":569,"y":3514,"t":"TNF"}]},"mark":{"type":"text","fontSize":57,"color":"#8f96fc","align":"center"}},
{"data":{"values":[{"x":176,"y":548,"t":"Iso2"},{"x":114,"y":3163,"t":"Iso2"},{"x":114,"y":3854,"t":"Iso2"}]},"mark":{"type":"text","fontSize":57,"color":"#3fcaf9"}},
{"data":{"values":[{"x":980,"y":548,"t":"Target"}]},"mark":{"type":"text","fontSize":57,"color":"#fe9220"}},
{"data":{"values":[{"x":647,"y":594,"t":"ADE"}]},"mark":{"type":"text","fontSize":57,"color":"#fdbf60","align":"center"}},
{"data":{"values":[{"x":456,"y":366,"t":"ACME"}]},"mark":{"type":"text","fontSize":60,"color":"#00ffa6","align":"center","baseline":"middle","angle":-49}},
{"data":{"values":[{"x":386,"y":677,"t":"22,777"},{"x":398,"y":775,"t":"24,891"},{"x":441,"y":851.5,"t":"43,339"},{"x":487,"y":949,"t":"61,618"},{"x":583,"y":1026,"t":"98,223"},{"x":602,"y":1124,"t":"102,512"},{"x":651,"y":1201,"t":"123,410"},{"x":843,"y":1299,"t":"195,364"},{"x":3232,"y":2900,"t":"Negative"},{"x":3232,"y":2968,"t":"Positive"},{"x":3232,"y":3035,"t":"NA"}]},"mark":{"type":"text","fontSize":42,"color":"black"}},
{"data":{"values":[{"x":766,"y":675,"t":"All"},{"x":766,"y":762,"t":"Totalp<0.05"},{"x":2541,"y":1079,"t":": GOMF-Chemokine activity"},{"x":2541,"y":1133,"t":": GOMF-CCR chemokine receptor binding"},{"x":870,"y":2266,"t":": GOBP-Positive regulation of T cell proferliation"},{"x":870,"y":2314,"t":": GOBP-Positive regulation of activated T cell proliferation"},{"x":870,"y":2362,"t":": GOBP-Positive regulation of T cell proliferation"},{"x":870,"y":2411,"t":": GOBP-T cell proliferation"},{"x":870,"y":2459,"t":": GOBP-Positive regulation of α β T cell proliferation"},{"x":2837,"y":2208,"t":"TNF"}]},"mark":{"type":"text","fontSize":43,"color":"black"}},
{"data":{"values":[{"x":316,"y":1404,"t":"0"},{"x":424,"y":1404,"t":"50,000"},{"x":580,"y":1404,"t":"100,000"},{"x":744,"y":1404,"t":"150,000"},{"x":908,"y":1404,"t":"200,000"}]},"mark":{"type":"text","fontSize":42,"color":"#4d4d4d","align":"center"}},
{"data":{"values":[{"x":1985,"y":294,"t":"Percentage of all pathways (%)"},{"x":1985,"y":1303,"t":"Number of times as mediators"},{"x":584,"y":1595,"t":"Percentage of all pathways (%)"},{"x":574,"y":2589,"t":"Number of times as targets"},{"x":2117,"y":1634,"t":"Top mediator"},{"x":3013,"y":1630,"t":"Top target"},{"x":2192,"y":2588,"t":"Number of times as mediators/ targets"},{"x":3146,"y":2830,"t":"Effect"}]},"mark":{"type":"text","fontSize":57,"color":"black"}},
{"data":{"values":[{"x":1541,"y":788,"t":"ACME"}]},"mark":{"type":"text","fontSize":56,"color":"black","align":"right"}},
{"data":{"values":[{"x":258,"y":1879,"t":"Total"},{"x":258,"y":2089,"t":"ADE"},{"x":258,"y":2298,"t":"ACME"}]},"mark":{"type":"text","fontSize":54,"color":"black","align":"right"}},
{"data":{"values":[{"x":2540,"y":422,"t":"①"},{"x":2525,"y":466,"t":"②"},{"x":2510,"y":1064,"t":"①"},{"x":2510,"y":1119,"t":"②"},{"x":1171,"y":1729,"t":"①"},{"x":1067,"y":1800,"t":"②"},{"x":810,"y":2062,"t":"③"},{"x":784,"y":2145,"t":"④"},{"x":775,"y":2204,"t":"⑤"},{"x":840,"y":2251,"t":"①"},{"x":840,"y":2300,"t":"②"},{"x":840,"y":2348,"t":"③"},{"x":840,"y":2397,"t":"④"},{"x":840,"y":2445,"t":"⑤"}]},"mark":{"type":"text","font":"DejaVu Sans","fontSize":46,"color":"black","align":"center","baseline":"middle"}},
{"data":{"values":[{"x":2326,"y":1699,"t":"CLIC1"},{"x":2326,"y":1752,"t":"VAMP8"},{"x":2326,"y":1804,"t":"MRPL47"},{"x":2326,"y":1856,"t":"PTPN2"},{"x":2326,"y":1908,"t":"EPSP8L1"},{"x":2326,"y":1960,"t":"SHPK1"},{"x":2326,"y":2013,"t":"SDC1"},{"x":2326,"y":2064,"t":"GOLGA6A"},{"x":2326,"y":2168,"t":"GSDMD"}]},"mark":{"type":"text","fontSize":42,"fontStyle":"italic","color":"#4d4d4d","align":"right"}},
{"data":{"values":[{"x":2326,"y":2116,"t":"TNF"}]},"mark":{"type":"text","fontSize":42,"fontStyle":"italic","color":"black","align":"right"}},
{"data":{"values":[{"x":3096,"y":1699,"t":"PTPN6"},{"x":3096,"y":1752,"t":"RBPJ"},{"x":3096,"y":1908,"t":"AGER"},{"x":3096,"y":2013,"t":"CD79B"},{"x":3096,"y":2064,"t":"CRAD16"},{"x":3096,"y":2168,"t":"RPLP2"}]},"mark":{"type":"text","fontSize":42,"fontStyle":"italic","color":"#4d4d4d"}},
{"data":{"values":[{"x":3096,"y":1804,"t":"CD3D"},{"x":3096,"y":1856,"t":"LST1"},{"x":3096,"y":1960,"t":"GNLY"},{"x":3096,"y":2116,"t":"LAG3"}]},"mark":{"type":"text","fontSize":42,"fontStyle":"italic","color":"black"}},
{"data":{"values":[{"x":544,"y":3027,"t":"TCGA"},{"x":560,"y":3707,"t":"GSE144269"}]},"mark":{"type":"text","fontSize":43,"color":"black","align":"center"}},
{"data":{"values":[{"x":430,"y":3086,"t":"ACME < 0.001"},{"x":448,"y":3136,"t":"ADE < 0.001"},{"x":446,"y":3768,"t":"ACME < 0.001"},{"x":464,"y":3817.5,"t":"ADE < 0.001"}]},"mark":{"type":"text","fontSize":42,"color":"#4d4d4d"}},
{"data":{"values":[{"x":405,"y":3086,"t":"p"},{"x":423,"y":3136,"t":"p"},{"x":421,"y":3768,"t":"p"},{"x":439,"y":3817.5,"t":"p"}]},"mark":{"type":"text","fontSize":42,"fontStyle":"italic","color":"#4d4d4d"}},
{"data":{"values":[{"x":761,"y":3238,"t":"GOBP-Positive regulation of"},{"x":761,"y":3308,"t":"activated T cell proliferation"},{"x":761,"y":3917,"t":"GOBP-Positive regulation of"},{"x":761,"y":3987,"t":"activated T cell proliferation"}]},"mark":{"type":"text","fontSize":57,"color":"#fdb47c"}},
{"data":{"values":[{"x":2241,"y":2822,"t":"TNF"},{"x":1868,"y":3047,"t":"Isoform 2"},{"x":2730,"y":3047,"t":"T cell proliferation"}]},"mark":{"type":"text","fontSize":57,"color":"white","align":"center"}},
{"data":{"values":[{"x":2243,"y":3012,"t":"ADE"}]},"mark":{"type":"text","fontSize":57,"color":"#757575","align":"center"}},
{"data":{"values":[{"x":1993,"y":2892,"t":"ACME"}]},"mark":{"type":"text","fontSize":60,"color":"#757575","align":"center","baseline":"middle","angle":-44}}
]}
]}
]}
